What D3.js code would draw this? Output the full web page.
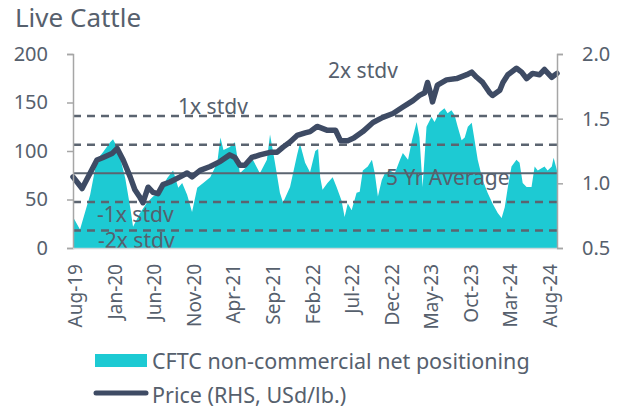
<!DOCTYPE html>
<html><head><meta charset="utf-8">
<script src="https://cdn.jsdelivr.net/npm/d3@7"></script>
<style>body{margin:0;background:#fff}svg{display:block}text{font-family:"Noto Sans",sans-serif}</style>
</head><body><svg id="c" width="628" height="409"></svg>
<script>
const title = "Live Cattle";
const xTickLabels = ["Aug-19","Jan-20","Jun-20","Nov-20","Apr-21","Sep-21","Feb-22","Jul-22","Dec-22","May-23","Oct-23","Mar-24","Aug-24"];
const leftTicks = [0,50,100,150,200];
const rightTicks = [0.5,1.0,1.5,2.0];
const seriesNames = ["CFTC non-commercial net positioning","Price (RHS, USd/lb.)"];

const posDates = ["2019-07-24","2019-08-20","2019-09-28","2019-10-24","2019-11-17","2019-12-14","2019-12-25","2020-01-02","2020-01-14","2020-02-10","2020-02-29","2020-03-11","2020-04-07","2020-05-04","2020-05-27","2020-06-23","2020-07-20","2020-08-12","2020-09-01","2020-09-16","2020-10-05","2020-10-24","2020-11-13","2020-12-06","2021-01-02","2021-01-29","2021-02-10","2021-02-22","2021-03-18","2021-04-07","2021-04-26","2021-05-23","2021-06-15","2021-07-12","2021-08-08","2021-08-20","2021-09-08","2021-09-27","2021-10-09","2021-11-05","2021-12-02","2021-12-13","2022-01-02","2022-01-21","2022-02-10","2022-02-21","2022-03-01","2022-03-10","2022-03-29","2022-04-18","2022-05-03","2022-05-22","2022-06-03","2022-06-15","2022-06-30","2022-07-19","2022-07-31","2022-08-12","2022-08-31","2022-09-16","2022-09-27","2022-10-09","2022-10-24","2022-11-05","2022-11-24","2022-12-13","2023-01-02","2023-01-13","2023-02-02","2023-02-17","2023-03-07","2023-03-18","2023-03-30","2023-04-14","2023-05-03","2023-05-15","2023-06-03","2023-06-22","2023-07-04","2023-07-19","2023-07-31","2023-08-12","2023-08-27","2023-09-08","2023-09-20","2023-10-05","2023-10-16","2023-10-28","2023-11-16","2023-12-05","2023-12-24","2024-01-13","2024-01-28","2024-02-09","2024-02-21","2024-03-06","2024-03-25","2024-04-06","2024-04-18","2024-05-03","2024-05-22","2024-06-03","2024-06-15","2024-07-11","2024-07-23","2024-08-08","2024-08-15","2024-08-28"];
const posValues = [32,19,55,91,99,109,112,108,101,72,42,22,36,47,53,58,72,80,62,67,55,37,62,67,73,88,114,101,104,109,77,84,91,77,91,117,88,57,47,63,96,108,88,78,100,102,73,60,67,73,63,49,32,46,39,57,58,80,84,91,77,53,70,77,80,77,91,98,91,111,130,114,63,125,135,130,140,144,139,142,137,125,111,114,125,129,111,91,70,57,46,36,31,42,63,84,91,88,67,63,63,84,80,84,80,84,93,80];

const priceDates = ["2019-07-24","2019-08-28","2019-10-24","2019-11-17","2019-12-21","2020-01-10","2020-02-02","2020-02-29","2020-03-18","2020-04-07","2020-04-18","2020-05-08","2020-05-27","2020-06-15","2020-07-04","2020-07-31","2020-09-08","2020-10-05","2020-10-24","2020-11-24","2021-01-02","2021-02-10","2021-03-18","2021-04-07","2021-04-26","2021-05-15","2021-06-11","2021-07-12","2021-08-20","2021-09-16","2021-10-09","2021-11-05","2021-12-02","2022-01-02","2022-01-21","2022-02-17","2022-03-29","2022-04-29","2022-05-18","2022-06-15","2022-07-08","2022-08-12","2022-09-20","2022-10-28","2022-12-06","2023-01-13","2023-02-21","2023-03-18","2023-04-07","2023-04-18","2023-05-03","2023-05-07","2023-05-26","2023-06-30","2023-08-08","2023-09-16","2023-10-05","2023-10-24","2023-11-16","2023-12-13","2023-12-24","2024-01-21","2024-02-02","2024-02-21","2024-03-25","2024-04-14","2024-05-03","2024-05-26","2024-06-22","2024-07-11","2024-08-08","2024-08-28"];
const priceValues = [1.05,0.96,1.18,1.20,1.23,1.27,1.18,1.05,0.95,0.89,0.85,0.97,0.93,0.92,0.99,1.01,1.05,1.08,1.05,1.10,1.13,1.17,1.22,1.20,1.14,1.14,1.20,1.22,1.24,1.24,1.28,1.32,1.37,1.39,1.40,1.44,1.41,1.41,1.33,1.33,1.35,1.40,1.47,1.51,1.54,1.59,1.64,1.68,1.70,1.78,1.67,1.63,1.76,1.80,1.81,1.84,1.86,1.82,1.78,1.70,1.68,1.72,1.78,1.84,1.89,1.86,1.81,1.85,1.84,1.88,1.82,1.85];

const refLabels = ["2x stdv","1x stdv","5 Yr Average","-1x stdv","-2x stdv"];
const refValues = [136,106.5,77,47.5,18];

const parse = d3.timeParse("%Y-%m-%d");
const svg = d3.select("#c");
const x = d3.scaleTime([parse("2019-07-24"), parse("2024-08-28")], [73,557]);
const yL = d3.scaleLinear([0,200],[248,54]);
const yR = d3.scaleLinear([0.5,2.0],[248,54]);
const txt = "#56606d";
const FONT = "'Noto Sans',sans-serif";

svg.append("text").attr("x",15).attr("y",27).attr("font-size",26).attr("fill",txt).text(title);

const pos = posDates.map((d,i)=>({d:parse(d),v:posValues[i]}));
svg.append("path").datum(pos).attr("fill","#1dcad3")
  .attr("d", d3.area().x(p=>x(p.d)).y0(yL(0)).y1(p=>yL(p.v)));

refValues.forEach((v,i)=>{
  svg.append("line").attr("x1",73).attr("x2",557).attr("y1",yL(v)).attr("y2",yL(v))
    .attr("stroke","#5b6470").attr("stroke-width", i===2?2:2.5)
    .attr("stroke-dasharray", i===2?null:"8,6");
});

const price = priceDates.map((d,i)=>({d:parse(d),v:priceValues[i]}));
svg.append("path").datum(price).attr("fill","none").attr("stroke","#3e4b64")
  .attr("stroke-width",5.5).attr("stroke-linejoin","round").attr("stroke-linecap","round")
  .attr("d", d3.line().x(p=>x(p.d)).y(p=>yR(p.v)));

const refLabelPos = [[328,78],[178,114],[386,185],[97,222],[98,248]];
refLabels.forEach((t,i)=>{
  svg.append("text").attr("x",refLabelPos[i][0]).attr("y",refLabelPos[i][1])
    .attr("font-size",21).attr("fill",txt).text(t);
});

const gl = svg.append("g").attr("transform","translate(73,0)")
  .call(d3.axisLeft(yL).tickValues(leftTicks).tickSize(6).tickPadding(19).tickFormat(d3.format("d")));
const gr = svg.append("g").attr("transform","translate(557,0)")
  .call(d3.axisRight(yR).tickValues(rightTicks).tickSize(6).tickPadding(19).tickFormat(d3.format(".1f")));
[gl,gr].forEach(g=>{
  g.selectAll("path,line").attr("stroke","#a6a6a6").attr("stroke-width",1.5);
  g.selectAll("text").attr("font-size",20).attr("fill",txt).attr("font-family",FONT);
});
svg.append("line").attr("x1",73).attr("x2",557).attr("y1",248.5).attr("y2",248.5).attr("stroke","#cdd8db").attr("stroke-width",1.5);

const tickDates = xTickLabels.map((t,i)=>d3.timeMonth.offset(parse("2019-08-01"), i*5));
tickDates.forEach((d,i)=>{
  const tx = x(d)+7;
  svg.append("text").attr("transform",`translate(${tx},264) rotate(-90)`)
    .attr("text-anchor","end").attr("font-size",19).attr("fill",txt).text(xTickLabels[i]);
});

svg.append("rect").attr("x",95).attr("y",354).attr("width",52).attr("height",13).attr("fill","#1dcad3");
svg.append("text").attr("x",152).attr("y",369).attr("font-size",21.5).attr("fill",txt).text(seriesNames[0]);
svg.append("line").attr("x1",96).attr("x2",146).attr("y1",393).attr("y2",393).attr("stroke","#3e4b64").attr("stroke-width",5).attr("stroke-linecap","round");
svg.append("text").attr("x",152).attr("y",403).attr("font-size",21.5).attr("fill",txt).text(seriesNames[1]);
</script></body></html>
